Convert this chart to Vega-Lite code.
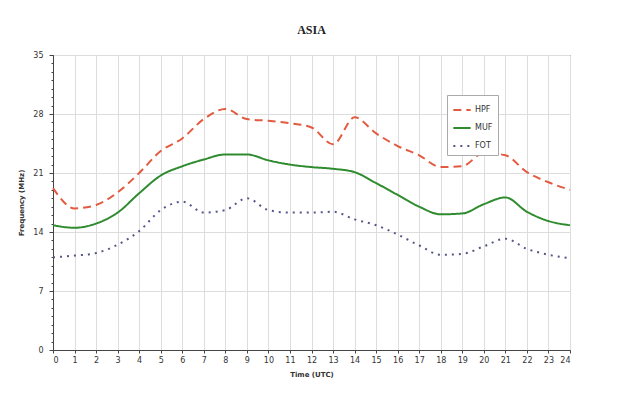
{
  "$schema": "https://vega.github.io/schema/vega-lite/v6.json",
  "autosize": "none",
  "width": 517,
  "height": 295,
  "padding": {"left": 53, "top": 55, "right": 52, "bottom": 47},
  "background": "white",
  "title": {"text": "ASIA", "font": "Liberation Serif", "fontSize": 12, "fontWeight": "bold", "color": "#222", "offset": 14},
  "config": {
    "view": {"stroke": "#444", "strokeWidth": 1},
    "axis": {"labelFont": "DejaVu Sans", "labelFontSize": 8, "labelColor": "#333", "titleFont": "DejaVu Sans", "titleFontSize": 7, "titleFontWeight": "bold", "titleColor": "#333", "gridColor": "#ddd", "domainColor": "#444", "tickColor": "#444"}
  },
  "data": {"values": [
    {"h":0,"s":"HPF","v":19.2},{"h":1,"s":"HPF","v":16.8},{"h":2,"s":"HPF","v":17.2},{"h":3,"s":"HPF","v":18.7},{"h":4,"s":"HPF","v":21.0},{"h":5,"s":"HPF","v":23.6},{"h":6,"s":"HPF","v":25.1},{"h":7,"s":"HPF","v":27.4},{"h":8,"s":"HPF","v":28.6},{"h":9,"s":"HPF","v":27.4},{"h":10,"s":"HPF","v":27.2},{"h":11,"s":"HPF","v":26.9},{"h":12,"s":"HPF","v":26.4},{"h":13,"s":"HPF","v":24.4},{"h":14,"s":"HPF","v":27.6},{"h":15,"s":"HPF","v":25.7},{"h":16,"s":"HPF","v":24.2},{"h":17,"s":"HPF","v":23.1},{"h":18,"s":"HPF","v":21.7},{"h":19,"s":"HPF","v":21.8},{"h":20,"s":"HPF","v":23.4},{"h":21,"s":"HPF","v":23.1},{"h":22,"s":"HPF","v":21.1},{"h":23,"s":"HPF","v":19.9},{"h":24,"s":"HPF","v":19.0},
    {"h":0,"s":"MUF","v":14.8},{"h":1,"s":"MUF","v":14.5},{"h":2,"s":"MUF","v":15.0},{"h":3,"s":"MUF","v":16.3},{"h":4,"s":"MUF","v":18.6},{"h":5,"s":"MUF","v":20.7},{"h":6,"s":"MUF","v":21.8},{"h":7,"s":"MUF","v":22.6},{"h":8,"s":"MUF","v":23.2},{"h":9,"s":"MUF","v":23.2},{"h":10,"s":"MUF","v":22.5},{"h":11,"s":"MUF","v":22.0},{"h":12,"s":"MUF","v":21.7},{"h":13,"s":"MUF","v":21.5},{"h":14,"s":"MUF","v":21.1},{"h":15,"s":"MUF","v":19.8},{"h":16,"s":"MUF","v":18.4},{"h":17,"s":"MUF","v":17.0},{"h":18,"s":"MUF","v":16.1},{"h":19,"s":"MUF","v":16.2},{"h":20,"s":"MUF","v":17.3},{"h":21,"s":"MUF","v":18.1},{"h":22,"s":"MUF","v":16.4},{"h":23,"s":"MUF","v":15.3},{"h":24,"s":"MUF","v":14.8},
    {"h":0,"s":"FOT","v":11.0},{"h":1,"s":"FOT","v":11.2},{"h":2,"s":"FOT","v":11.5},{"h":3,"s":"FOT","v":12.5},{"h":4,"s":"FOT","v":14.1},{"h":5,"s":"FOT","v":16.6},{"h":6,"s":"FOT","v":17.6},{"h":7,"s":"FOT","v":16.3},{"h":8,"s":"FOT","v":16.6},{"h":9,"s":"FOT","v":18.0},{"h":10,"s":"FOT","v":16.6},{"h":11,"s":"FOT","v":16.3},{"h":12,"s":"FOT","v":16.3},{"h":13,"s":"FOT","v":16.4},{"h":14,"s":"FOT","v":15.5},{"h":15,"s":"FOT","v":14.8},{"h":16,"s":"FOT","v":13.7},{"h":17,"s":"FOT","v":12.4},{"h":18,"s":"FOT","v":11.3},{"h":19,"s":"FOT","v":11.4},{"h":20,"s":"FOT","v":12.3},{"h":21,"s":"FOT","v":13.2},{"h":22,"s":"FOT","v":12.0},{"h":23,"s":"FOT","v":11.3},{"h":24,"s":"FOT","v":10.9}
  ]},
  "layer": [
    {
      "mark": {"type": "line", "interpolate": "monotone", "strokeWidth": 2},
      "encoding": {
        "x": {"field": "h", "type": "quantitative", "scale": {"domain": [0, 24], "nice": false}, "axis": {"values": [0,1,2,3,4,5,6,7,8,9,10,11,12,13,14,15,16,17,18,19,20,21,22,23,24], "title": "Time (UTC)", "tickSize": 3, "labelPadding": 3, "titlePadding": 6}},
        "y": {"field": "v", "type": "quantitative", "scale": {"domain": [0, 35], "nice": false}, "axis": {"values": [0,7,14,21,28,35], "title": "Frequency (MHz)", "tickSize": 4, "labelPadding": 6, "titlePadding": 8}},
        "color": {"field": "s", "type": "nominal", "scale": {"domain": ["HPF","MUF","FOT"], "range": ["#e25a3f", "#2e8b2e", "#55558a"]},
          "legend": {"title": null, "orient": "none", "legendX": 394, "legendY": 40, "symbolType": "stroke", "symbolSize": 300, "symbolStrokeWidth": 2, "labelFont": "DejaVu Sans", "labelFontSize": 8, "labelColor": "#333", "strokeColor": "#aaa", "fillColor": "white", "padding": 5, "rowPadding": 4, "labelOffset": 3}},
        "strokeDash": {"field": "s", "type": "nominal", "scale": {"domain": ["HPF","MUF","FOT"], "range": [[8,5],[1,0],[2,5]]}, "legend": null}
      }
    },
    {
      "mark": {"type": "rule", "opacity": 0},
      "encoding": {
        "y": {"datum": 0, "type": "quantitative", "axis": {"orient": "left", "values": [0,1,2,3,4,5,6,7,8,9,10,11,12,13,14,15,16,17,18,19,20,21,22,23,24,25,26,27,28,29,30,31,32,33,34,35], "labels": false, "title": null, "grid": false, "tickSize": 2, "domain": false}}
      }
    }
  ],
  "resolve": {"axis": {"y": "independent"}}
}
